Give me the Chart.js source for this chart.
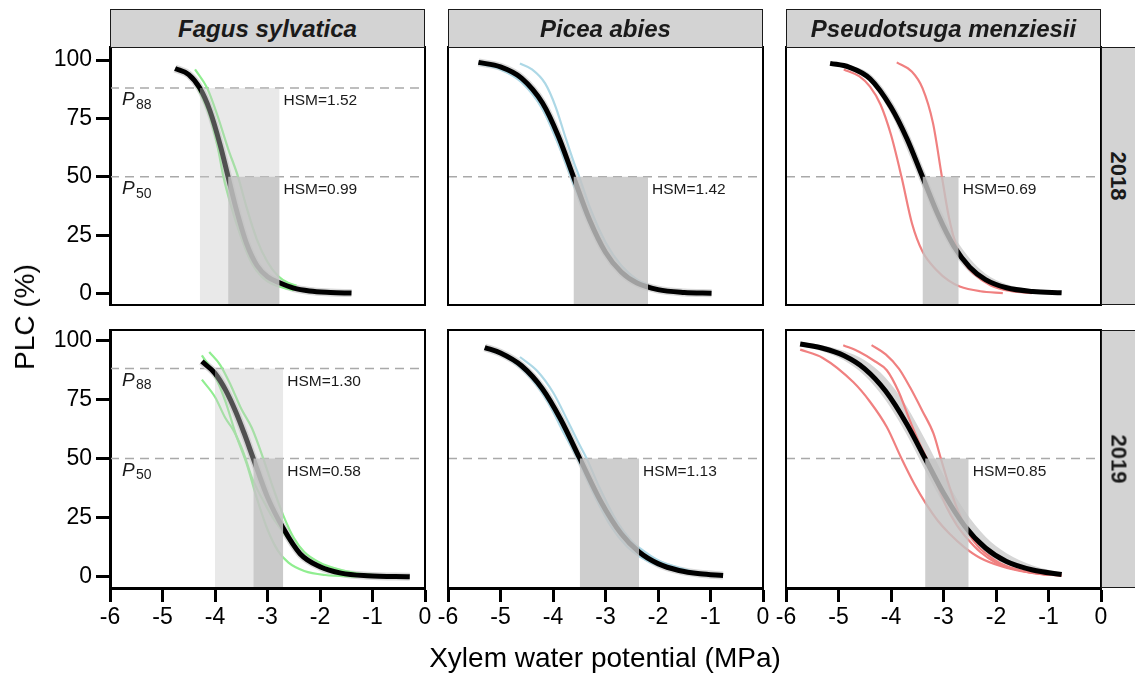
<!DOCTYPE html>
<html>
<head>
<meta charset="utf-8">
<script src="https://cdn.jsdelivr.net/npm/chart.js@4.4.1/dist/chart.umd.min.js"></script>
<style>
body{margin:0;background:#fff;width:1135px;height:676px;overflow:hidden;position:relative;font-family:'Liberation Sans',Arial,sans-serif}
canvas{position:absolute;left:0;top:0}
.strip{position:absolute;background:#d3d3d3;border:1.5px solid #1a1a1a;box-sizing:border-box;display:flex;align-items:center;justify-content:center;font-weight:bold;color:#1a1a1a}
.titulo{position:absolute;color:#000;font-size:28px;white-space:nowrap}
</style>
</head>
<body>
<script>
const species = ['Fagus sylvatica', 'Picea abies', 'Pseudotsuga menziesii']
const years = ['2018', '2019']
const xTicks = [-6, -5, -4, -3, -2, -1, 0]
const yTicks = [0, 25, 50, 75, 100]
const treeColors = ['#90ee90', '#add8e6', '#f08080']

// curvas ajustadas [potencial, PLC]
const fagus18Fit = [[-4.76,96.4],[-4.5,93.8],[-4.29,88],[-4.1,78.5],[-3.9,63.5],[-3.75,50],[-3.6,36.5],[-3.4,21.5],[-3.2,12],[-3.0,7.2],[-2.77,4.6],[-2.5,2.3],[-2.2,1.1],[-1.8,0.5],[-1.4,0.2]]
const picea18Fit = [[-5.42,99],[-5.0,97.1],[-4.6,92.3],[-4.2,81.6],[-3.9,67.5],[-3.61,50],[-3.3,31.4],[-3.0,17.7],[-2.7,9.2],[-2.4,4.5],[-2.0,1.7],[-1.5,0.5],[-0.98,0.15]]
const pseudo18Fit = [[-5.16,98.6],[-4.8,97],[-4.4,92],[-4.0,79.8],[-3.7,66.5],[-3.4,50],[-3.1,33.5],[-2.8,20.2],[-2.5,11.3],[-2.2,6],[-1.8,2.5],[-1.3,0.9],[-0.75,0.3]]
const fagus19Fit = [[-4.25,91],[-4.0,86],[-3.8,79],[-3.6,69.5],[-3.45,61],[-3.27,50],[-3.0,33.7],[-2.7,20.5],[-2.38,9.8],[-2.0,4.3],[-1.6,1.6],[-1.1,0.5],[-0.29,0.1]]
const picea19Fit = [[-5.3,96.9],[-5.0,94.6],[-4.6,89.2],[-4.2,79.4],[-3.85,66.4],[-3.49,50],[-3.1,32.3],[-2.7,18.2],[-2.36,10.5],[-2.0,5.6],[-1.6,2.7],[-1.2,1.3],[-0.76,0.6]]
const pseudo19Fit = [[-5.73,98.4],[-5.3,96.6],[-4.9,93.5],[-4.5,87.9],[-4.1,78.4],[-3.7,64.6],[-3.35,50],[-3.0,35.4],[-2.6,21.6],[-2.2,12.2],[-1.8,6.5],[-1.3,2.9],[-0.75,1.0]]

// arboles individuales
const fagus18Trees = [
    [[-4.38,96],[-4.15,88],[-3.95,76],[-3.75,62],[-3.56,50],[-3.4,37],[-3.2,23],[-3.0,13.5],[-2.8,7.5],[-2.6,4.5],[-2.45,3.5]],
    [[-4.45,93],[-4.3,87],[-4.1,76],[-3.95,63],[-3.84,50],[-3.7,38],[-3.5,24],[-3.3,13],[-3.1,7],[-2.9,4],[-2.7,2.5],[-2.5,1.5]]
]
const picea18Trees = [
    [[-4.63,98.5],[-4.4,96],[-4.15,90],[-3.95,80],[-3.75,66],[-3.6,56],[-3.5,50],[-3.3,37],[-3.0,22],[-2.7,12],[-2.4,6],[-2.2,3.8]],
    [[-5.42,98.5],[-5.0,96],[-4.6,90.5],[-4.2,79],[-3.9,64],[-3.66,50],[-3.4,35],[-3.1,21],[-2.8,11.5],[-2.5,6],[-2.2,3]]
]
const pseudo18Trees = [
    [[-3.89,99],[-3.6,95],[-3.4,88],[-3.2,73],[-3.03,50],[-2.9,33],[-2.75,20],[-2.6,13],[-2.43,8.6],[-2.1,3.5],[-1.7,1],[-1.32,0.2]],
    [[-4.9,96],[-4.6,93],[-4.4,88.6],[-4.2,81],[-4.0,68],[-3.8,50],[-3.6,30],[-3.4,18],[-3.13,10],[-2.9,5.5],[-2.69,3],[-2.3,1],[-1.87,0.2]]
]
const fagus19Trees = [
    [[-4.11,95],[-3.9,89.5],[-3.7,81],[-3.5,71],[-3.3,63],[-3.08,50],[-2.9,38],[-2.7,26],[-2.5,16.5],[-2.3,10.5],[-2.0,6],[-1.7,3.5],[-1.3,1.5],[-0.8,0.5]],
    [[-4.25,93.6],[-4.0,85],[-3.8,74],[-3.6,60],[-3.4,48],[-3.2,33],[-3.0,20],[-2.8,11],[-2.6,6],[-2.3,2.5],[-1.9,0.8],[-1.3,0.2]],
    [[-4.25,83.3],[-4.0,76],[-3.8,67],[-3.65,62],[-3.45,52],[-3.3,42],[-3.1,33],[-2.9,25],[-2.7,19],[-2.4,10],[-2.0,4.5],[-1.5,1.5],[-1.0,0.5]]
]
const picea19Trees = [
    [[-4.63,92.9],[-4.3,87],[-4.0,78],[-3.7,65],[-3.5,56],[-3.36,50],[-3.1,37],[-2.8,24],[-2.5,15],[-2.34,12],[-2.0,7],[-1.6,3.8],[-1.3,2]],
    [[-5.3,96.5],[-4.9,93],[-4.5,86],[-4.1,74],[-3.8,61],[-3.53,50],[-3.2,34],[-2.9,21.5],[-2.6,13],[-2.34,8.5],[-2.0,4.8],[-1.6,2.5],[-1.3,1.5]]
]
const pseudo19Trees = [
    [[-5.73,96],[-5.3,92.5],[-4.72,82.3],[-4.4,74],[-4.08,63.3],[-3.8,50],[-3.55,39],[-3.35,31.5],[-3.1,23.5],[-2.88,18.1],[-2.6,12.5],[-2.3,8],[-1.9,4.5],[-1.4,2],[-0.75,0.5]],
    [[-4.91,97.9],[-4.6,95],[-4.3,91],[-4.08,87.3],[-3.85,78],[-3.64,66],[-3.45,56],[-3.32,50],[-3.1,38],[-2.94,29.4],[-2.75,22],[-2.54,16],[-2.3,10.5],[-2.0,6],[-1.6,3],[-1.1,1.2],[-0.75,0.6]],
    [[-4.37,97.9],[-4.1,94],[-3.85,88],[-3.64,80.2],[-3.4,70],[-3.19,60.5],[-3.05,50],[-2.9,39],[-2.75,29.4],[-2.54,19.3],[-2.35,13],[-2.18,9.6],[-1.9,5.5],[-1.5,2.5],[-1.0,0.8]]
]

// intervalo de confianza [potencial, inferior, superior]
const pseudo18Band = [[-5.16,98.3,99.3],[-4.8,96,97.8],[-4.4,90.5,94],[-4.0,77,83],[-3.7,62,70.5],[-3.4,45.5,54.5],[-3.1,29.5,38],[-2.8,17,24.5],[-2.5,9,15],[-2.2,4.5,8.5],[-1.8,1.7,4],[-1.3,0.5,1.8],[-0.75,0.1,0.7]]
const pseudo19Band = [[-5.73,97.5,99.3],[-5.3,95.2,97.8],[-4.9,91.5,95.5],[-4.5,85,91.5],[-4.1,74.5,84],[-3.7,60,72],[-3.35,45,58],[-3.0,31,43],[-2.6,18.5,28],[-2.2,10,17],[-1.8,5.2,10],[-1.3,2.2,4.8],[-0.75,0.6,1.8]]

const p88 = [-4.29, null, null, -4.00, null, null]
const p50 = [-3.75, -3.61, -3.40, -3.27, -3.49, -3.35]
const pmin = [-2.77, -2.19, -2.71, -2.70, -2.36, -2.52]
const hsm88 = ['1.52', null, null, '1.30', null, null]
const hsm50 = ['0.99', '1.42', '0.69', '0.58', '1.13', '0.85']

const fits = [fagus18Fit, picea18Fit, pseudo18Fit, fagus19Fit, picea19Fit, pseudo19Fit]
const trees = [fagus18Trees, picea18Trees, pseudo18Trees, fagus19Trees, picea19Trees, pseudo19Trees]
const bands = [null, null, pseudo18Band, null, null, pseudo19Band]

// disposicion de paneles
const W = 1135, H = 676
const colLeft = [110, 448, 786]
const rowTop = [47, 330]
const panelW = 315, panelH = 258
const yRange = [[-4.9, 105.6], [-4.7, 104.3]]
const fuente = "'Liberation Sans', Arial, sans-serif"

function puntos(arr){
    return arr.map(p => ({x: p[0], y: p[1]}))
}

function linea(data, color, ancho, orden, extra){
    return Object.assign({
        data: data,
        borderColor: color,
        borderWidth: ancho,
        order: orden,
        pointRadius: 0,
        fill: false,
        cubicInterpolationMode: 'monotone'
    }, extra || {})
}

const marco = {
    id: 'marco',
    afterDatasetsDraw(chart){
        const i = chart.options.panel
        const ctx = chart.ctx
        const xs = chart.scales.x, ys = chart.scales.y
        const area = chart.chartArea
        ctx.save()
        ctx.fillStyle = '#1a1a1a'
        ctx.textBaseline = 'middle'
        ctx.textAlign = 'left'
        const etiquetas = [[88, hsm88[i]], [50, hsm50[i]]]
        etiquetas.forEach(([nivel, hsm]) => {
            if (hsm === null) return
            const y = ys.getPixelForValue(nivel) + 13
            ctx.font = '15.5px ' + fuente
            ctx.fillText('HSM=' + hsm, xs.getPixelForValue(pmin[i]) + 4, y)
            // solo Fagus lleva las etiquetas P88 / P50
            if (p88[i] !== null) {
                ctx.font = 'italic 19px ' + fuente
                ctx.fillText('P', area.left + 12, y - 1)
                ctx.font = '14px ' + fuente
                ctx.fillText(String(nivel), area.left + 26, y + 4)
            }
        })
        ctx.restore()
    },
    afterDraw(chart){
        const a = chart.chartArea
        const ctx = chart.ctx
        ctx.save()
        ctx.strokeStyle = '#000'
        ctx.lineWidth = 2
        ctx.strokeRect(a.left, a.top, a.right - a.left, a.bottom - a.top)
        ctx.restore()
    }
}

function crearPanel(i){
    const row = Math.floor(i / 3), col = i % 3
    const canvas = document.createElement('canvas')
    canvas.width = W
    canvas.height = H
    document.body.appendChild(canvas)

    const datasets = []
    const niveles = p88[i] !== null ? [88, 50] : [50]
    niveles.forEach(n => datasets.push(linea([{x: -6, y: n}, {x: 0, y: n}], '#a9a9a9', 1.5, 10, {borderDash: [9, 6]})))

    if (bands[i]) {
        datasets.push(linea(bands[i].map(b => ({x: b[0], y: b[1]})), 'rgba(0,0,0,0)', 0, 8, {fill: '+1', backgroundColor: '#d6d6d6'}))
        datasets.push(linea(bands[i].map(b => ({x: b[0], y: b[2]})), 'rgba(0,0,0,0)', 0, 8))
    } else {
        datasets.push(linea(puntos(fits[i]), '#dadada', 8, 8))
    }
    trees[i].forEach(t => datasets.push(linea(puntos(t), treeColors[col], 2.2, 6)))
    datasets.push(linea(puntos(fits[i]), '#000', 5, 4))

    if (p88[i] !== null) {
        datasets.push(linea([{x: p88[i], y: 88}, {x: pmin[i], y: 88}], 'rgba(0,0,0,0)', 0, 2,
            {fill: 'start', backgroundColor: 'rgba(200,200,200,0.4)'}))
    }
    datasets.push(linea([{x: p50[i], y: 50}, {x: pmin[i], y: 50}], 'rgba(0,0,0,0)', 0, 1,
        {fill: 'start', backgroundColor: 'rgba(195,195,195,0.82)'}))

    const bottomRow = row === 1
    const leftCol = col === 0
    const ejeGrid = {drawOnChartArea: false, drawTicks: true, tickLength: 14, tickWidth: 3, tickColor: '#000'}

    new Chart(canvas, {
        type: 'line',
        data: {datasets: datasets},
        options: {
            panel: i,
            responsive: false,
            animation: false,
            events: [],
            layout: {
                padding: {
                    left: leftCol ? 0 : colLeft[col],
                    right: W - colLeft[col] - panelW,
                    top: rowTop[row],
                    bottom: bottomRow ? 0 : H - rowTop[row] - panelH
                }
            },
            plugins: {legend: {display: false}, tooltip: {enabled: false}},
            scales: {
                x: {
                    type: 'linear',
                    min: -6,
                    max: 0,
                    display: bottomRow,
                    afterBuildTicks: s => { s.ticks = xTicks.map(v => ({value: v})) },
                    afterFit: s => { if (bottomRow) s.height = H - rowTop[row] - panelH },
                    ticks: {font: {size: 23, family: fuente}, color: '#000', padding: 2, maxRotation: 0, autoSkip: false},
                    grid: ejeGrid,
                    border: {display: true, color: '#000', width: 3}
                },
                y: {
                    type: 'linear',
                    min: yRange[row][0],
                    max: yRange[row][1],
                    display: leftCol,
                    afterBuildTicks: s => { s.ticks = yTicks.map(v => ({value: v})) },
                    afterFit: s => { if (leftCol) s.width = colLeft[0] },
                    ticks: {font: {size: 23, family: fuente}, color: '#000', padding: 4, autoSkip: false},
                    grid: ejeGrid,
                    border: {display: true, color: '#000', width: 3}
                }
            }
        },
        plugins: [marco]
    })
}

for (let i = 0; i < 6; i++) crearPanel(i)

// tiras de especie y año
species.forEach((sp, c) => {
    const d = document.createElement('div')
    d.className = 'strip'
    d.style.cssText = `left:${colLeft[c]}px;top:9px;width:${panelW}px;height:39px;font-size:24px;font-style:italic`
    d.textContent = sp
    document.body.appendChild(d)
})
years.forEach((yr, r) => {
    const d = document.createElement('div')
    d.className = 'strip'
    d.style.cssText = `left:1101px;top:${rowTop[r]}px;width:45px;height:${panelH}px;font-size:22px`
    const s = document.createElement('span')
    s.textContent = yr
    s.style.cssText = 'display:inline-block;transform:rotate(90deg);margin-right:11px'
    d.appendChild(s)
    document.body.appendChild(d)
})

const tx = document.createElement('div')
tx.className = 'titulo'
tx.textContent = 'Xylem water potential (MPa)'
tx.style.cssText = 'left:605px;top:658px;transform:translate(-50%,-50%)'
document.body.appendChild(tx)

const ty = document.createElement('div')
ty.className = 'titulo'
ty.textContent = 'PLC (%)'
ty.style.cssText = 'left:25px;top:317px;transform:translate(-50%,-50%) rotate(-90deg)'
document.body.appendChild(ty)
</script>
</body>
</html>
